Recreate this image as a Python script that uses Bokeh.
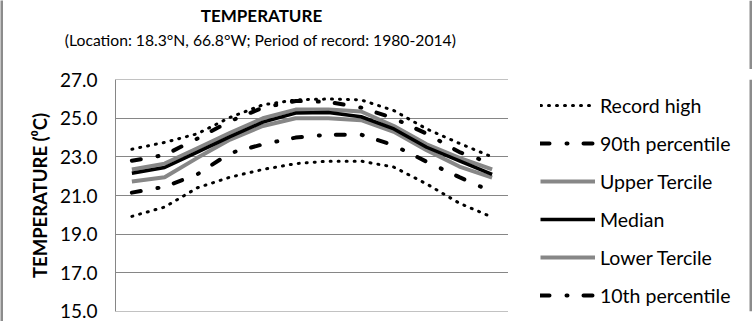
from bokeh.plotting import figure
from bokeh.models import (FactorRange, Range1d, FixedTicker, Label, Legend, LegendItem, Span)
from bokeh.layouts import row, column
from bokeh.embed import file_html
from bokeh.resources import INLINE

months = ["Jan", "Feb", "Mar", "Apr", "May", "Jun", "Jul", "Aug", "Sep", "Oct", "Nov", "Dec"]
record_high = [23.4, 23.75, 24.2, 25.05, 25.7, 25.95, 26.0, 25.95, 25.4, 24.45, 23.7, 23.0]
pct90 = [22.8, 23.1, 23.95, 24.85, 25.55, 25.9, 25.85, 25.55, 25.0, 24.2, 23.25, 22.65]
upper_tercile = [22.35, 22.65, 23.45, 24.25, 25.0, 25.45, 25.45, 25.35, 24.6, 23.65, 22.95, 22.35]
median = [22.15, 22.45, 23.25, 24.05, 24.8, 25.27, 25.3, 25.08, 24.45, 23.5, 22.8, 22.1]
lower_tercile = [21.72, 21.95, 22.95, 23.9, 24.6, 25.0, 25.0, 24.9, 24.3, 23.35, 22.5, 21.93]
pct10 = [21.15, 21.45, 22.1, 23.2, 23.65, 24.0, 24.15, 24.15, 23.6, 22.75, 21.95, 21.2]
record_low = [19.92, 20.4, 21.4, 21.95, 22.35, 22.65, 22.78, 22.78, 22.47, 21.6, 20.6, 19.88]

yticks = [15, 17, 19, 21, 23, 25, 27]
ytick_labels = ["15.0", "17.0", "19.0", "21.0", "23.0", "25.0", "27.0"]

title_text = "TEMPERATURE"
subtitle_text = "(Location: 18.3\u00b0N, 66.8\u00b0W; Period of record: 1980-2014)"
ylabel_text = "TEMPERATURE (\u2070C)"
legend_labels = ["Record high", "90th percentile", "Upper Tercile", "Median",
                 "Lower Tercile", "10th percentile"]

FONT = "Lato"
GRAY = "#878787"
BORDER = "#8c8c8c"

styles = [
    dict(line_color="black", line_width=3, line_dash="1 7", line_cap="round"),
    dict(line_color="black", line_width=4, line_dash="9 17 1 16", line_cap="round"),
    dict(line_color=GRAY, line_width=4),
    dict(line_color="black", line_width=3.5),
    dict(line_color=GRAY, line_width=4),
    dict(line_color="black", line_width=4, line_dash="9 17 1 16", line_cap="round"),
]
series = [record_high, pct90, upper_tercile, median, lower_tercile, pct10]


def bare(fig, fill="white"):
    fig.outline_line_color = None
    fig.xgrid.grid_line_color = None
    fig.ygrid.grid_line_color = None
    fig.background_fill_color = fill
    fig.border_fill_color = fill
    return fig


NOB = dict(min_border_left=0, min_border_right=0, min_border_top=0, min_border_bottom=0)

# ---------------- left border strip ----------------
strip = bare(figure(width=3, height=321, output_backend="svg", toolbar_location=None,
                    x_axis_location=None, y_axis_location=None, **NOB), BORDER)

# ---------------- header with title and subtitle ----------------
header = bare(figure(width=749, height=69, x_range=Range1d(0, 1), y_range=Range1d(0, 1),
                     output_backend="svg", toolbar_location=None,
                     x_axis_location=None, y_axis_location=None, **NOB))
header.add_layout(Label(x=258, y=54, x_units="screen", y_units="screen", text=title_text,
                        text_align="center", text_baseline="alphabetic", text_font=FONT,
                        text_font_style="bold", text_font_size="17px", text_color="black"))
header.add_layout(Label(x=257, y=30, x_units="screen", y_units="screen", text=subtitle_text,
                        text_align="center", text_baseline="middle", text_font=FONT,
                        text_font_size="15.7px", text_color="black"))
header.add_layout(Span(location=747.5, dimension="height", location_units="screen",
                       line_color=BORDER, line_width=3))

# ---------------- main chart ----------------
p = figure(width=505, height=252, x_range=FactorRange(factors=months),
           y_range=Range1d(14.99, 27.01), output_backend="svg", toolbar_location=None,
           min_border_left=112, min_border_right=0, min_border_top=10,
           min_border_bottom=10)
p.outline_line_color = None
p.background_fill_color = "white"
p.border_fill_color = "white"

p.xaxis.visible = False
p.xgrid.grid_line_color = None
p.ygrid.grid_line_color = "#868686"
p.ygrid.grid_line_width = 1
p.yaxis.ticker = FixedTicker(ticks=yticks)
p.yaxis.major_label_overrides = {t: l for t, l in zip(yticks, ytick_labels)}
p.yaxis.major_tick_line_color = None
p.yaxis.minor_tick_line_color = None
p.yaxis.major_tick_out = 0
p.yaxis.major_tick_in = 0
p.yaxis.axis_line_color = "#868686"
p.yaxis.major_label_standoff = 18
p.yaxis.major_label_text_font = FONT
p.yaxis.major_label_text_font_size = "19px"
p.yaxis.major_label_text_color = "black"
p.yaxis.axis_label = ylabel_text
p.yaxis.axis_label_text_font = FONT
p.yaxis.axis_label_text_font_style = "bold"
p.yaxis.axis_label_text_font_size = "18.5px"
p.yaxis.axis_label_text_color = "black"
p.yaxis.axis_label_standoff = 6

for i in [0, 1, 2, 4, 3, 5]:
    p.line(months, series[i], **styles[i])
p.line(months, record_low, **styles[0])

# ---------------- legend panel ----------------
q = bare(figure(width=244, height=252, x_range=FactorRange(factors=months),
                y_range=Range1d(100, 101), output_backend="svg", toolbar_location=None,
                x_axis_location=None, y_axis_location=None, **NOB))
items = []
for lbl, s, st in zip(legend_labels, series, styles):
    r = q.line(months, s, **st)  # lies outside q's visible range; used only for the key
    items.append(LegendItem(label=lbl, renderers=[r]))
legend = Legend(items=items, location=(32, 4), orientation="vertical",
                glyph_width=55, glyph_height=24, label_height=24, spacing=14,
                label_standoff=5, padding=0, margin=0,
                label_text_font=FONT, label_text_font_size="19.5px",
                label_text_color="black",
                border_line_color=None, background_fill_alpha=0)
q.add_layout(legend, "center")
q.add_layout(Span(location=242.5, dimension="height", location_units="screen",
                  line_color=BORDER, line_width=3))

layout = row(strip, column(header, row(p, q, spacing=0), spacing=0), spacing=0)
open("out.html", "w").write(file_html(layout, INLINE))
